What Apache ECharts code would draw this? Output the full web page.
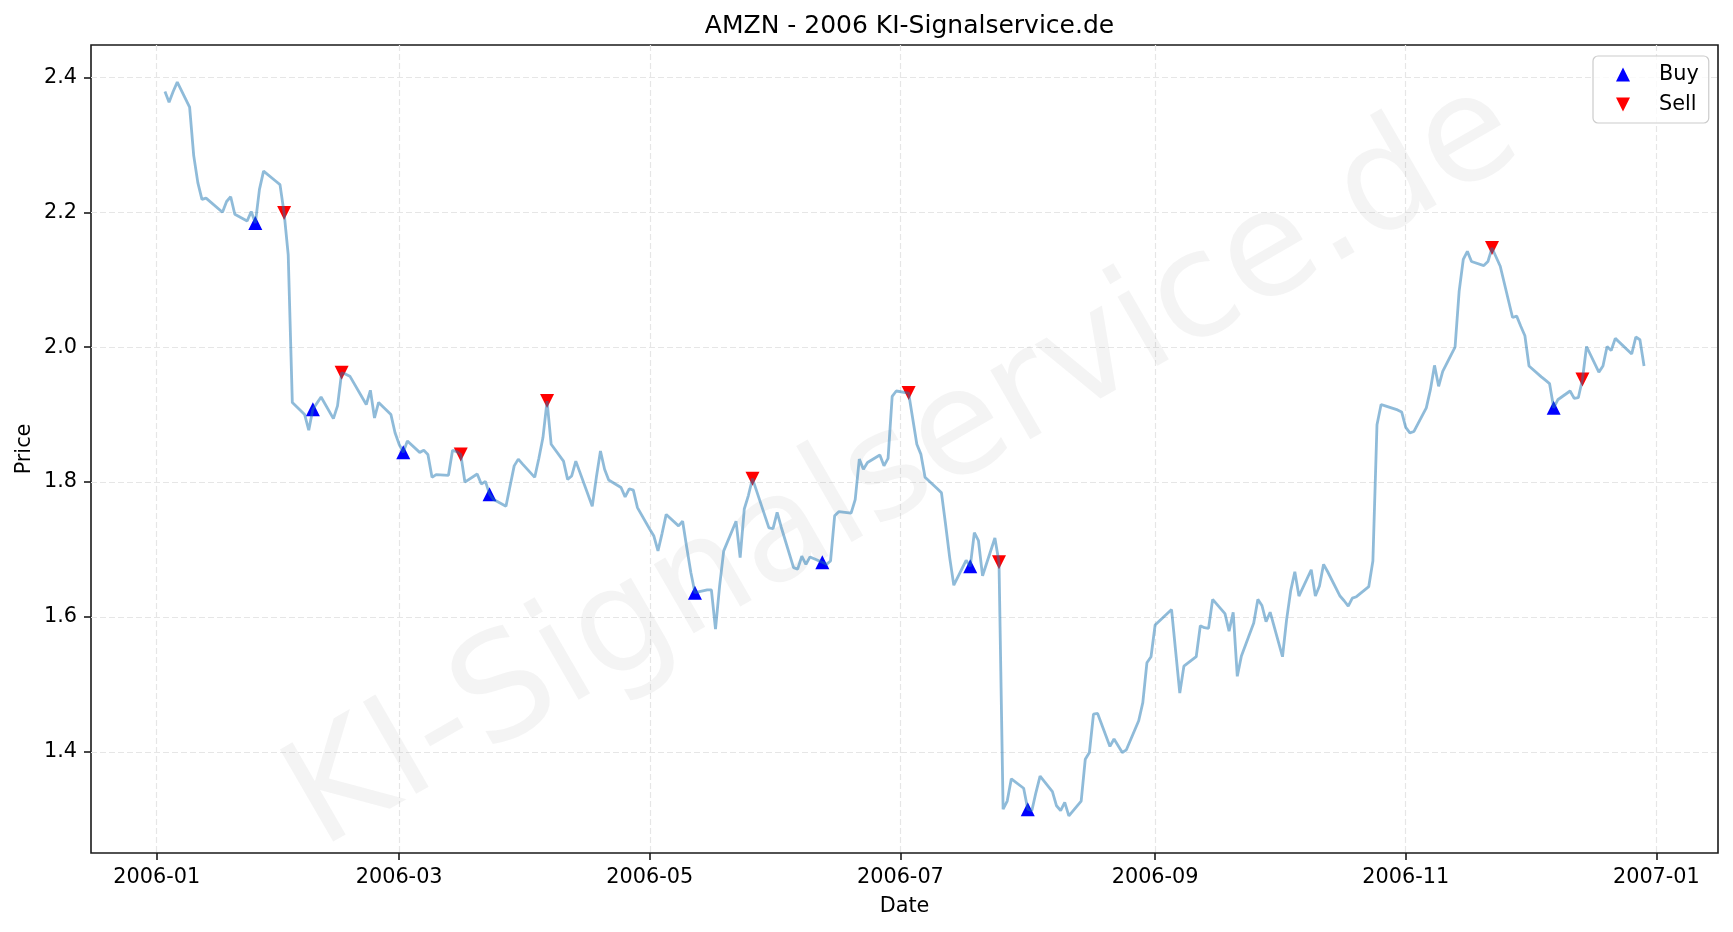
<!DOCTYPE html>
<html>
<head>
<meta charset="utf-8">
<script src="https://cdn.jsdelivr.net/npm/echarts@6/dist/echarts.min.js"></script>
<style>html,body{margin:0;padding:0;background:#fff}#c{width:1733px;height:932px}</style>
</head>
<body>
<div id="c"></div>
<script>
const dates = ['2006-01-03','2006-01-04','2006-01-05','2006-01-06','2006-01-09','2006-01-10','2006-01-11','2006-01-12','2006-01-13','2006-01-17','2006-01-18','2006-01-19','2006-01-20','2006-01-23','2006-01-24','2006-01-25','2006-01-26','2006-01-27','2006-01-30','2006-01-31',
'2006-02-01','2006-02-02','2006-02-03','2006-02-06','2006-02-07','2006-02-08','2006-02-09','2006-02-10','2006-02-13','2006-02-14','2006-02-15','2006-02-16','2006-02-17','2006-02-21','2006-02-22','2006-02-23','2006-02-24','2006-02-27','2006-02-28',
'2006-03-01','2006-03-02','2006-03-03','2006-03-06','2006-03-07','2006-03-08','2006-03-09','2006-03-10','2006-03-13','2006-03-14','2006-03-15','2006-03-16','2006-03-17','2006-03-20','2006-03-21','2006-03-22','2006-03-23','2006-03-24','2006-03-27','2006-03-28','2006-03-29','2006-03-30','2006-03-31',
'2006-04-03','2006-04-04','2006-04-05','2006-04-06','2006-04-07','2006-04-10','2006-04-11','2006-04-12','2006-04-13','2006-04-17','2006-04-18','2006-04-19','2006-04-20','2006-04-21','2006-04-24','2006-04-25','2006-04-26','2006-04-27','2006-04-28',
'2006-05-01','2006-05-02','2006-05-03','2006-05-04','2006-05-05','2006-05-08','2006-05-09','2006-05-10','2006-05-11','2006-05-12','2006-05-15','2006-05-16','2006-05-17','2006-05-18','2006-05-19','2006-05-22','2006-05-23','2006-05-24','2006-05-25','2006-05-26','2006-05-30','2006-05-31',
'2006-06-01','2006-06-02','2006-06-05','2006-06-06','2006-06-07','2006-06-08','2006-06-09','2006-06-12','2006-06-13','2006-06-14','2006-06-15','2006-06-16','2006-06-19','2006-06-20','2006-06-21','2006-06-22','2006-06-23','2006-06-26','2006-06-27','2006-06-28','2006-06-29','2006-06-30',
'2006-07-03','2006-07-05','2006-07-06','2006-07-07','2006-07-10','2006-07-11','2006-07-12','2006-07-13','2006-07-14','2006-07-17','2006-07-18','2006-07-19','2006-07-20','2006-07-21','2006-07-24','2006-07-25','2006-07-26','2006-07-27','2006-07-28','2006-07-31',
'2006-08-01','2006-08-02','2006-08-03','2006-08-04','2006-08-07','2006-08-08','2006-08-09','2006-08-10','2006-08-11','2006-08-14','2006-08-15','2006-08-16','2006-08-17','2006-08-18','2006-08-21','2006-08-22','2006-08-23','2006-08-24','2006-08-25','2006-08-28','2006-08-29','2006-08-30','2006-08-31',
'2006-09-01','2006-09-05','2006-09-06','2006-09-07','2006-09-08','2006-09-11','2006-09-12','2006-09-13','2006-09-14','2006-09-15','2006-09-18','2006-09-19','2006-09-20','2006-09-21','2006-09-22','2006-09-25','2006-09-26','2006-09-27','2006-09-28','2006-09-29',
'2006-10-02','2006-10-03','2006-10-04','2006-10-05','2006-10-06','2006-10-09','2006-10-10','2006-10-11','2006-10-12','2006-10-13','2006-10-16','2006-10-17','2006-10-18','2006-10-19','2006-10-20','2006-10-23','2006-10-24','2006-10-25','2006-10-26','2006-10-27','2006-10-30','2006-10-31',
'2006-11-01','2006-11-02','2006-11-03','2006-11-06','2006-11-07','2006-11-08','2006-11-09','2006-11-10','2006-11-13','2006-11-14','2006-11-15','2006-11-16','2006-11-17','2006-11-20','2006-11-21','2006-11-22','2006-11-24','2006-11-27','2006-11-28','2006-11-29','2006-11-30',
'2006-12-01','2006-12-04','2006-12-05','2006-12-06','2006-12-07','2006-12-08','2006-12-11','2006-12-12','2006-12-13','2006-12-14','2006-12-15','2006-12-18','2006-12-19','2006-12-20','2006-12-21','2006-12-22','2006-12-26','2006-12-27','2006-12-28','2006-12-29'];

const prices = [2.379,2.363,2.379,2.393,2.356,2.284,2.244,2.219,2.221,2.200,2.216,2.223,2.197,2.187,2.201,2.184,2.234,2.261,2.246,2.241,
2.199,2.137,1.918,1.900,1.877,1.908,1.917,1.926,1.894,1.913,1.962,1.960,1.957,1.915,1.936,1.895,1.918,1.900,1.873,
1.856,1.844,1.861,1.844,1.847,1.841,1.807,1.811,1.810,1.847,1.845,1.841,1.800,1.812,1.797,1.801,1.782,1.774,1.764,1.794,1.824,1.834,1.827,
1.807,1.835,1.866,1.920,1.856,1.831,1.804,1.809,1.831,1.764,1.807,1.846,1.819,1.803,1.792,1.778,1.790,1.788,1.762,
1.730,1.720,1.698,1.724,1.752,1.735,1.742,1.703,1.666,1.636,1.640,1.640,1.582,1.646,1.698,1.742,1.688,1.760,1.780,1.805,1.732,1.731,
1.755,1.733,1.673,1.671,1.690,1.678,1.689,1.681,1.678,1.683,1.750,1.756,1.754,1.774,1.834,1.819,1.829,1.840,1.824,1.835,1.927,1.935,
1.932,1.856,1.841,1.807,1.790,1.784,1.737,1.688,1.647,1.684,1.675,1.725,1.713,1.661,1.717,1.681,1.315,1.327,1.360,1.346,
1.315,1.313,1.340,1.364,1.341,1.320,1.313,1.325,1.305,1.327,1.389,1.399,1.456,1.457,1.408,1.419,1.409,1.399,1.403,1.446,1.473,1.532,1.541,
1.588,1.611,1.549,1.487,1.527,1.541,1.587,1.584,1.583,1.626,1.605,1.579,1.607,1.512,1.542,1.591,1.626,1.617,1.593,1.607,
1.541,1.596,1.639,1.667,1.631,1.670,1.631,1.646,1.678,1.667,1.631,1.624,1.616,1.628,1.630,1.645,1.683,1.885,1.915,1.913,1.907,1.904,
1.881,1.873,1.875,1.910,1.937,1.973,1.942,1.964,2.000,2.083,2.130,2.142,2.127,2.121,2.127,2.147,2.120,2.044,2.046,2.031,2.017,
1.972,1.956,1.951,1.946,1.910,1.922,1.935,1.924,1.925,1.952,2.001,1.963,1.972,2.001,1.995,2.013,1.990,2.015,2.011,1.972];

const buyDates = ['2006-01-25','2006-02-08','2006-03-02','2006-03-23','2006-05-12','2006-06-12','2006-07-18','2006-08-01','2006-12-07'];
const buyPrices = [2.184,1.908,1.844,1.782,1.636,1.681,1.675,1.315,1.910];
const sellDates = ['2006-02-01','2006-02-15','2006-03-16','2006-04-06','2006-05-26','2006-07-03','2006-07-25','2006-11-22','2006-12-14'];
const sellPrices = [2.199,1.962,1.841,1.920,1.805,1.932,1.681,2.147,1.952];

const xTickDates = ['2006-01-01','2006-03-01','2006-05-01','2006-07-01','2006-09-01','2006-11-01','2007-01-01'];
const yTickValues = [1.4,1.6,1.8,2.0,2.2,2.4];

const titleText = 'AMZN - 2006 KI-Signalservice.de';
const watermarkText = 'KI-Signalservice.de';

function ts(s){ const p = s.split('-').map(Number); return Date.UTC(p[0], p[1]-1, p[2]); }
function pad(n){ return n < 10 ? '0' + n : '' + n; }

const FONT = 'DejaVu Sans';
const FS = 20.8;
const gridL = 91, gridR = 15, gridT = 45, gridB = 79;
const W = 1733, H = 932;

const lineData = dates.map((d, i) => [ts(d), prices[i]]);
const buyData = buyDates.map((d, i) => [ts(d), buyPrices[i]]);
const sellData = sellDates.map((d, i) => [ts(d), sellPrices[i]]);
const xTicks = xTickDates.map(ts);
const downTri = 'path://M0,0L2,0L1,2Z';

const chart = echarts.init(document.getElementById('c'), null, {renderer: 'canvas'});
chart.setOption({
  animation: false,
  backgroundColor: '#ffffff',
  textStyle: {fontFamily: FONT},
  title: {
    text: titleText, left: (gridL + W - gridR) / 2, top: 9, textAlign: 'center',
    textStyle: {fontFamily: FONT, fontSize: 25, fontWeight: 'normal', color: '#000'}
  },
  graphic: [{
    type: 'text', z: 1,
    x: (gridL + W - gridR) / 2, y: 468,
    rotation: Math.PI / 6,
    style: {text: watermarkText, fontFamily: FONT, fontSize: 146, fill: 'rgba(128,128,128,0.09)', align: 'center', verticalAlign: 'middle'}
  }],
  legend: {
    orient: 'vertical', left: 1593, top: 56,
    padding: [8, 10, 8, 23], itemGap: 9, itemWidth: 14, itemHeight: 14,
    backgroundColor: 'rgba(255,255,255,0.8)', borderColor: '#cccccc', borderWidth: 1.2, borderRadius: 5,
    textStyle: {fontFamily: FONT, fontSize: FS, color: '#000', lineHeight: 20, padding: [0, 0, 0, 24]},
    data: [{name: 'Buy', icon: 'triangle'}, {name: 'Sell', icon: downTri}]
  },
  grid: {left: gridL, right: gridR, top: gridT, bottom: gridB, show: true, borderColor: '#1a1a1a', borderWidth: 1.6, backgroundColor: 'transparent', outerBoundsMode: 'none', containLabel: false},
  xAxis: {
    type: 'value', min: ts('2005-12-16'), max: ts('2007-01-16'),
    name: 'Date', nameLocation: 'middle', nameGap: 43, nameMoveOverlap: false,
    nameTextStyle: {fontFamily: FONT, fontSize: FS, color: '#000'},
    axisLine: {show: false},
    axisTick: {show: true, length: 7, lineStyle: {color: '#1a1a1a', width: 1.6}, customValues: xTicks},
    axisLabel: {
      customValues: xTicks, margin: 14, color: '#000', fontFamily: FONT, fontSize: FS, hideOverlap: false,
      formatter: v => { const d = new Date(v); return d.getUTCFullYear() + '-' + pad(d.getUTCMonth() + 1); }
    },
    splitLine: {show: true, lineStyle: {color: '#e6e6e6', width: 1.2, type: [6, 3]}}
  },
  yAxis: {
    type: 'value', min: 1.25, max: 2.448,
    name: 'Price', nameLocation: 'middle', nameGap: 56, nameRotate: 90, nameMoveOverlap: false,
    nameTextStyle: {fontFamily: FONT, fontSize: FS, color: '#000'},
    axisLine: {show: false},
    axisTick: {show: true, length: 7, lineStyle: {color: '#1a1a1a', width: 1.6}, customValues: yTickValues},
    axisLabel: {customValues: yTickValues, margin: 14, color: '#000', fontFamily: FONT, fontSize: FS, formatter: v => v.toFixed(1)},
    splitLine: {show: true, lineStyle: {color: '#e6e6e6', width: 1.2, type: [6, 3]}}
  },
  series: [
    {name: 'Buy', type: 'scatter', data: buyData, symbol: 'triangle', symbolSize: [14, 14], itemStyle: {color: '#0000ff', opacity: 1}, z: 2},
    {name: 'Sell', type: 'scatter', data: sellData, symbol: downTri, symbolSize: [14, 14], itemStyle: {color: '#ff0000', opacity: 1}, z: 2},
    {name: 'Close', type: 'line', data: lineData, showSymbol: false, symbol: 'none', lineStyle: {color: 'rgba(31,119,180,0.5)', width: 2.8}, z: 3}
  ]
});
</script>
</body>
</html>
